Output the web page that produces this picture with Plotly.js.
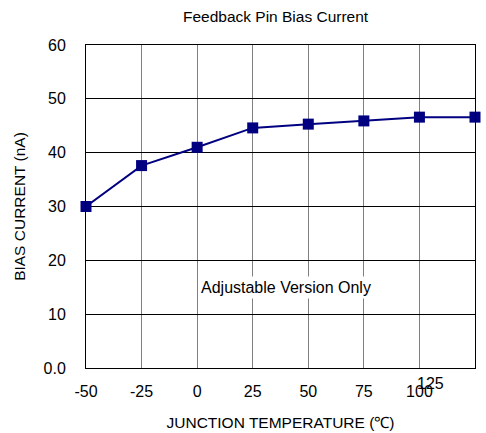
<!DOCTYPE html>
<html><head><meta charset="utf-8">
<script src="https://cdn.plot.ly/plotly-3.0.1.min.js"></script>
<style>body{margin:0;background:#fff}#c{width:486px;height:433px}</style>
</head><body><div id="c"></div>
<script>
const temperature = [-50, -25, 0, 25, 50, 75, 100, 125];
const biasCurrent = [30, 37.6, 41, 44.6, 45.3, 45.9, 46.6, 46.6];
const xTickVals = [-50, -25, 0, 25, 50, 75, 100];
const xTickText = ['-50', '-25', '0', '25', '50', '75', '100'];
const yTickVals = [0, 10, 20, 30, 40, 50, 60];
const yTickText = ['0.0', '10', '20', '30', '40', '50', '60'];

const font = 'Liberation Sans, Arial, sans-serif';
Plotly.newPlot('c', [{
  x: temperature, y: biasCurrent, type: 'scatter', mode: 'lines+markers',
  line: {color: '#000080', width: 2},
  marker: {symbol: 'square', size: 11, color: '#000080'},
  cliponaxis: false, hoverinfo: 'skip'
}], {
  width: 486, height: 433,
  margin: {l: 86, r: 11, t: 45, b: 65},
  paper_bgcolor: '#fff', plot_bgcolor: '#fff',
  showlegend: false,
  font: {family: font, color: '#000', size: 16},
  title: {text: 'Feedback Pin Bias Current', font: {size: 15.5, family: font, color: '#000'}, x: 0.567, xanchor: 'center', y: 0.962, yanchor: 'middle'},
  xaxis: {
    range: [-50, 125], tickvals: xTickVals, ticktext: xTickText,
    showgrid: true, gridcolor: '#808080', gridwidth: 1,
    showline: true, linecolor: '#000', linewidth: 1, mirror: true,
    zeroline: false, ticks: '', ticklabelstandoff: 9,
    tickfont: {size: 16, family: font, color: '#000'},
    title: {text: 'JUNCTION TEMPERATURE (℃)', font: {size: 15.5, family: font, color: '#000'}, standoff: 17}
  },
  yaxis: {
    range: [0, 60], tickvals: yTickVals, ticktext: yTickText,
    showgrid: true, gridcolor: '#000', gridwidth: 1,
    showline: true, linecolor: '#000', linewidth: 1, mirror: true,
    zeroline: false, ticks: '', ticklabelstandoff: 16,
    tickfont: {size: 16, family: font, color: '#000'},
    title: {text: 'BIAS CURRENT (nA)', font: {size: 15.5, family: font, color: '#000'}, standoff: 14}
  },
  annotations: [
    {x: 40, y: 15, xref: 'x', yref: 'y', text: 'Adjustable Version Only', showarrow: false,
     bgcolor: '#fff', font: {size: 16, family: font, color: '#000'}, borderpad: 2},
    {x: 105, y: 0, xref: 'x', yref: 'y', yshift: -15, text: '125', showarrow: false,
     font: {size: 16, family: font, color: '#000'}}
  ]
}, {displayModeBar: false, staticPlot: true});
</script></body></html>
